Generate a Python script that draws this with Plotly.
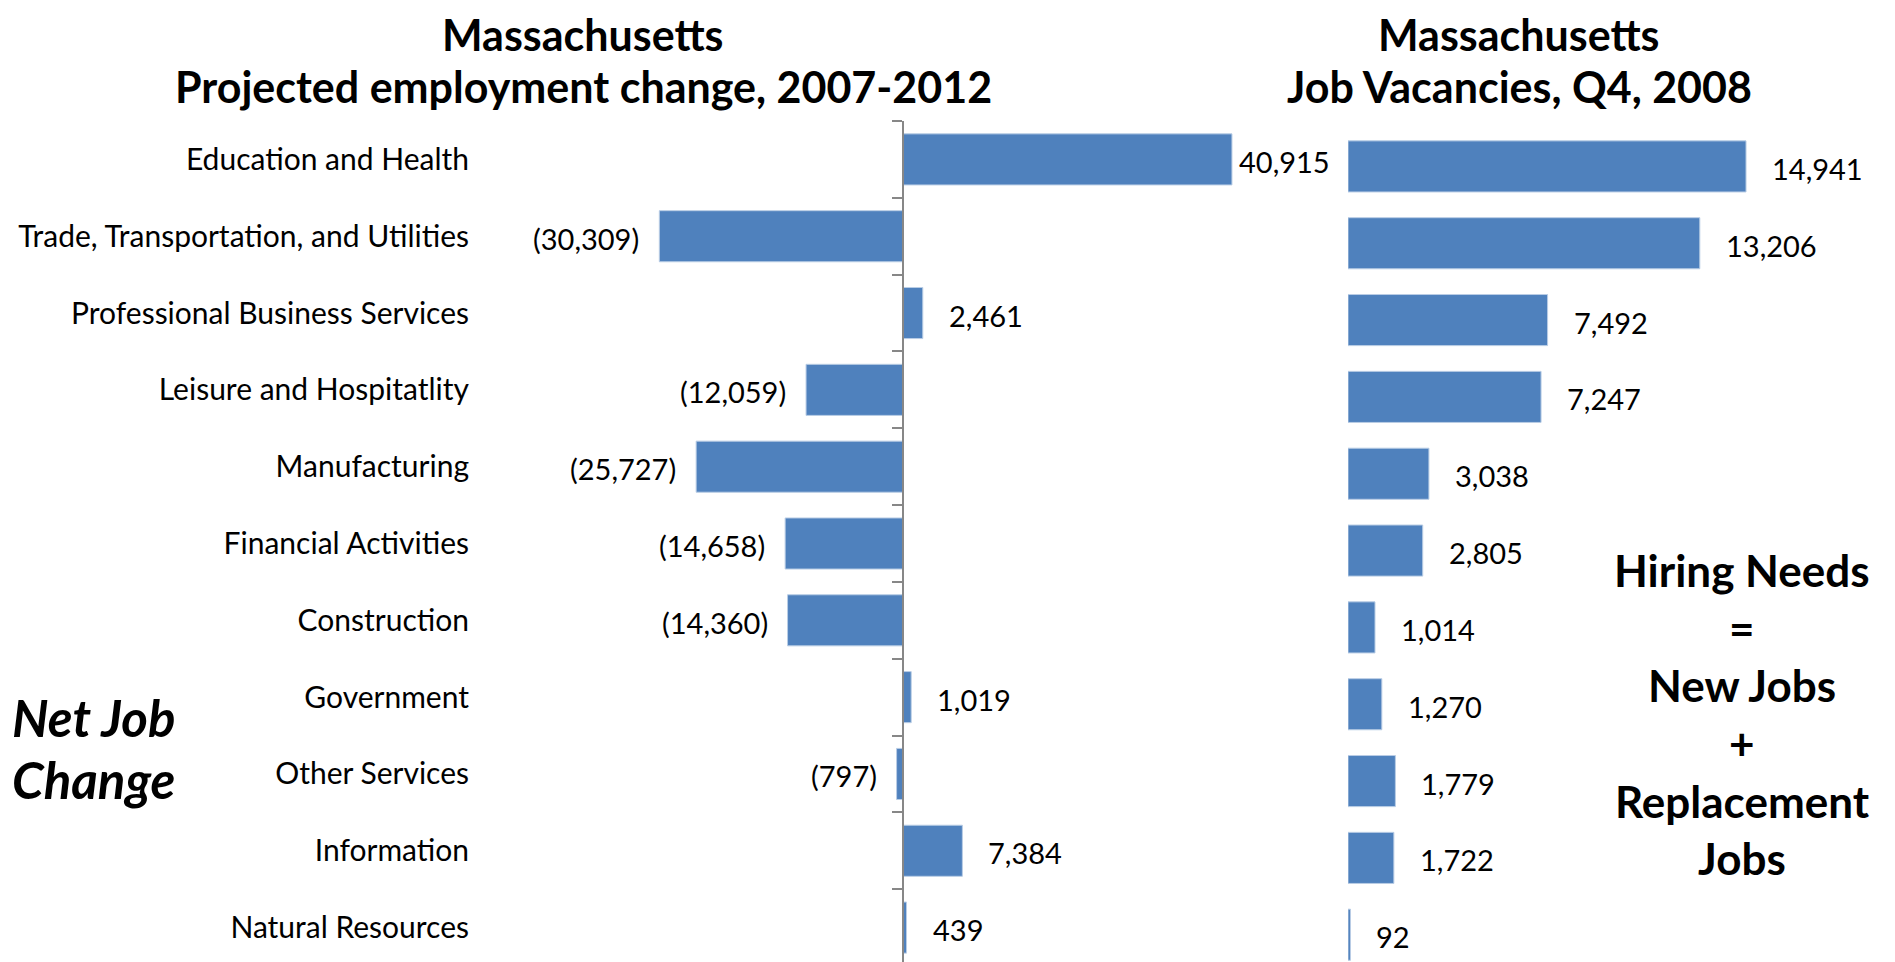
import plotly.graph_objects as go

# ---------------- data ----------------
categories = [
    "Education and Health",
    "Trade, Transportation, and Utilities",
    "Professional Business Services",
    "Leisure and Hospitatlity",
    "Manufacturing",
    "Financial Activities",
    "Construction",
    "Government",
    "Other Services",
    "Information",
    "Natural Resources",
]
net_change = [40915, -30309, 2461, -12059, -25727, -14658, -14360, 1019, -797, 7384, 439]
vacancies = [14941, 13206, 7492, 7247, 3038, 2805, 1014, 1270, 1779, 1722, 92]

left_title = ["Massachusetts", "Projected employment change, 2007-2012"]
right_title = ["Massachusetts", "Job Vacancies, Q4, 2008"]
side_note = ["Net Job", "Change"]
hiring_note = ["Hiring Needs", "=", "New Jobs", "+", "Replacement", "Jobs"]

# ---------------- layout constants (screen pixels) ----------------
OFF = 8                      # default page margin around the figure
W, H = 1895 - OFF, 962 - OFF
FONT = "Lato"
BAR = "#4F81BD"
AX = "#878787"
CAT = 30                     # category label size
LBL = 29                     # data label size
TTL = 43                     # title size

L_ZERO = 903.0
L_SCALE = 0.00804          # px per job
L_MIN, L_MAX = -52000, 48000
R_ZERO = 1348.0
R_SCALE = 0.02664
R_RIGHT = 1890.0


def fx(p):
    return (p - OFF) / W


def fy(p):
    return 1 - (p - OFF) / H


def fmt(v):
    return f"({abs(v):,})" if v < 0 else f"{v:,}"


fig = go.Figure()

fig.add_trace(go.Bar(
    y=categories, x=net_change, orientation="h",
    marker=dict(color=BAR, line=dict(color="#B9CDE5", width=1)),
    width=0.665, xaxis="x", yaxis="y", hoverinfo="skip",
))
fig.add_trace(go.Bar(
    y=categories, x=vacancies, orientation="h",
    marker=dict(color=BAR, line=dict(color="#B9CDE5", width=1)),
    width=0.665, xaxis="x2", yaxis="y2", hoverinfo="skip",
))

annotations = []
max_v = max(net_change)
for c, v in zip(categories, net_change):
    if v >= 0:
        gap = 5 if v == max_v else 24
        annotations.append(dict(x=v, y=c, xref="x", yref="y", text=fmt(v), showarrow=False,
                                xanchor="left", xshift=gap, yshift=-2,
                                font=dict(family=FONT, size=LBL, color="black")))
    else:
        annotations.append(dict(x=v, y=c, xref="x", yref="y", text=fmt(v), showarrow=False,
                                xanchor="right", xshift=-18, yshift=-2,
                                font=dict(family=FONT, size=LBL, color="black")))
for c, v in zip(categories, vacancies):
    annotations.append(dict(x=v, y=c, xref="x2", yref="y2", text=fmt(v), showarrow=False,
                            xanchor="left", xshift=24, yshift=-2,
                            font=dict(family=FONT, size=LBL, color="black")))

for txt, yp in zip(left_title, [34, 87]):
    annotations.append(dict(x=fx(583), y=fy(yp), xref="paper", yref="paper", text=f"<b>{txt}</b>",
                            showarrow=False, xanchor="center", yanchor="middle",
                            font=dict(family=FONT, size=TTL, color="black")))
for txt, yp in zip(right_title, [34, 87]):
    annotations.append(dict(x=fx(1519), y=fy(yp), xref="paper", yref="paper", text=f"<b>{txt}</b>",
                            showarrow=False, xanchor="center", yanchor="middle",
                            font=dict(family=FONT, size=TTL, color="black")))
for txt, yp in zip(side_note, [717, 779]):
    annotations.append(dict(x=fx(10), y=fy(yp), xref="paper", yref="paper", text=f"<b><i>{txt}</i></b>",
                            showarrow=False, xanchor="left", yanchor="middle",
                            font=dict(family=FONT, size=51, color="black")))
for txt, yp in zip(hiring_note, [570, 628, 685, 743, 801, 858]):
    annotations.append(dict(x=fx(1742), y=fy(yp), xref="paper", yref="paper", text=f"<b>{txt}</b>",
                            showarrow=False, xanchor="center", yanchor="middle",
                            font=dict(family=FONT, size=44, color="black")))

fig.update_layout(
    width=W, height=H,
    margin=dict(l=0, r=0, t=0, b=0),
    paper_bgcolor="white", plot_bgcolor="rgba(0,0,0,0)",
    showlegend=False,
    barmode="overlay",
    annotations=annotations,
    xaxis=dict(domain=[fx(L_ZERO + L_MIN * L_SCALE), fx(L_ZERO + L_MAX * L_SCALE)],
               range=[L_MIN, L_MAX], visible=False, anchor="y"),
    yaxis=dict(domain=[0, fy(121)], range=[10.448, -0.5], type="category",
               categoryorder="array", categoryarray=categories,
               anchor="free", position=fx(L_ZERO),
               showline=True, linecolor=AX, linewidth=2,
               ticks="outside", ticklen=10, tickwidth=2, tickcolor=AX,
               tickson="boundaries", showgrid=False, zeroline=False,
               ticklabelstandoff=427,
               tickfont=dict(family=FONT, size=CAT, color="black")),
    xaxis2=dict(domain=[fx(R_ZERO), fx(R_RIGHT)],
                range=[0, (R_RIGHT - R_ZERO) / R_SCALE], visible=False, anchor="y2"),
    yaxis2=dict(domain=[0, fy(128)], range=[10.355, -0.5], type="category",
                categoryorder="array", categoryarray=categories,
                anchor="x2", visible=False),
)

fig.write_html("out.html")
